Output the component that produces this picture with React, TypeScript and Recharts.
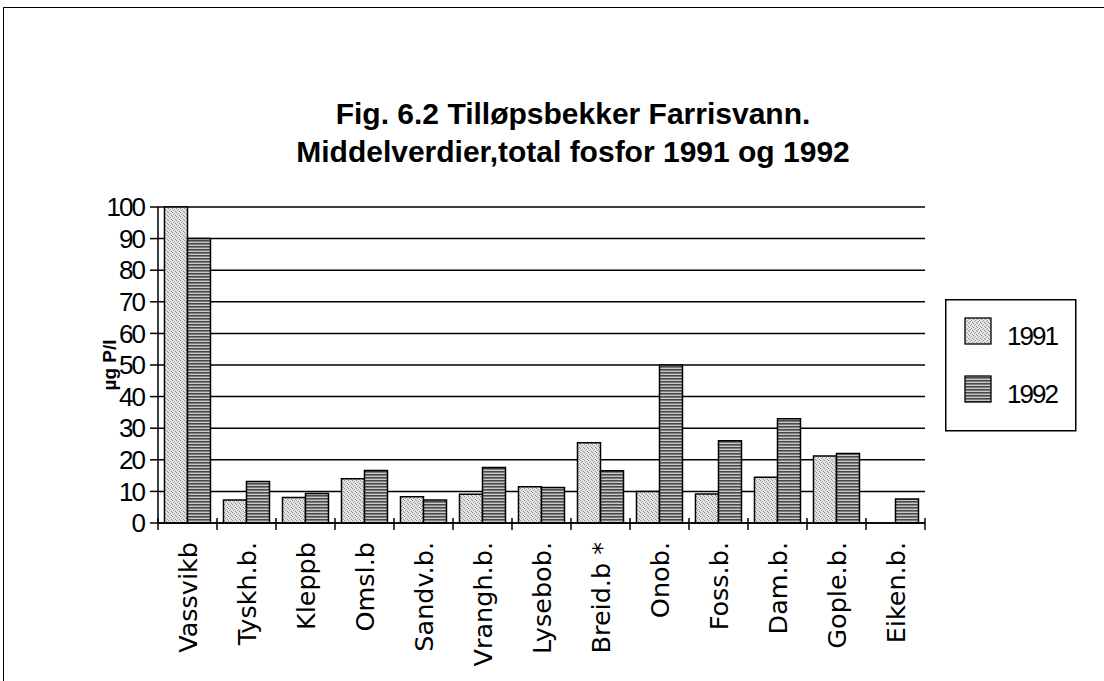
import React from "react";
import {
  Bar,
  BarChart,
  CartesianGrid,
  Legend,
  XAxis,
  YAxis,
} from "recharts";

const categories = [
  "Vassvikb",
  "Tyskh.b.",
  "Kleppb",
  "Omsl.b",
  "Sandv.b.",
  "Vrangh.b.",
  "Lysebob.",
  "Breid.b *",
  "Onob.",
  "Foss.b.",
  "Dam.b.",
  "Gople.b.",
  "Eiken.b.",
];
const values1991 = [100, 7.3, 8.1, 14, 8.3, 9.1, 11.5, 25.4, 10, 9.2, 14.5, 21.2, null];
const values1992 = [90, 13.1, 9.3, 16.6, 7.3, 17.6, 11.2, 16.5, 50, 26, 33, 22, 7.6];
const yTicks = [0, 10, 20, 30, 40, 50, 60, 70, 80, 90, 100];

const data = categories.map((name, i) => ({
  name,
  y1991: values1991[i],
  y1992: values1992[i],
}));

const titleFont = "'Liberation Sans', Arial, sans-serif";
const tickFont = "'Liberation Sans', Arial, sans-serif";
const labelFont = "'DejaVu Sans', Verdana, sans-serif";

function Patterns({ prefix }: { prefix: string }) {
  return (
    <defs>
      <pattern id={`${prefix}-dots`} width="4" height="4" patternUnits="userSpaceOnUse">
        <rect width="4" height="4" fill="#e4e4e4" />
        <rect x="0" y="0" width="1" height="1" fill="#8c8c8c" />
        <rect x="2" y="1" width="1" height="1" fill="#a0a0a0" />
        <rect x="1" y="2" width="1" height="1" fill="#9a9a9a" />
        <rect x="3" y="3" width="1" height="1" fill="#8c8c8c" />
      </pattern>
      <pattern id={`${prefix}-stripes`} width="4" height="3" patternUnits="userSpaceOnUse">
        <rect width="4" height="3" fill="#c8c8c8" />
        <rect x="0" y="0" width="4" height="1.6" fill="#4a4a4a" />
      </pattern>
    </defs>
  );
}

// category label plus the boundary ticks that cross the x axis
function CategoryTick(props: any) {
  const { x, y, payload, index, visibleTicksCount } = props;
  const half = payload.offset || 29.5;
  const last = index === visibleTicksCount - 1;
  return (
    <g>
      <line x1={x - half} x2={x - half} y1={y - 5} y2={y + 7} stroke="#000" strokeWidth={1.5} />
      {last && (
        <line x1={x + half} x2={x + half} y1={y - 5} y2={y + 7} stroke="#000" strokeWidth={1.5} />
      )}
      <g transform={`translate(${x},${y + 19}) rotate(-90)`}>
        <text textAnchor="end" dy="0.36em" fontSize={25.5} fontFamily={labelFont} fill="#000">
          {payload.value}
        </text>
      </g>
    </g>
  );
}

function LegendBox({ payload }: any) {
  const items = payload || [];
  return (
    <svg width={132} height={133} style={{ display: "block" }}>
      <Patterns prefix="lg" />
      <rect x={0.75} y={0.75} width={130} height={131} fill="#fff" stroke="#000" strokeWidth={1.5} />
      {items.map((entry: any, i: number) => (
        <g key={entry.value}>
          <rect
            x={20}
            y={19 + i * 58}
            width={26}
            height={26}
            fill={i === 0 ? "url(#lg-dots)" : "url(#lg-stripes)"}
            stroke="#000"
            strokeWidth={1.3}
          />
          <text x={62} y={46 + i * 58} fontSize={26} letterSpacing={-2} fontFamily={tickFont} fill="#000">
            {entry.value}
          </text>
        </g>
      ))}
    </svg>
  );
}

export default function App() {
  return (
    <div style={{ position: "absolute", left: 0, top: 0, width: 1104, height: 681, background: "#fff", overflow: "hidden" }}>
      <div
        style={{
          position: "absolute",
          left: 3,
          top: 7,
          width: 1101,
          height: 674,
          borderTop: "1.5px solid #000",
          borderLeft: "1.5px solid #000",
          boxSizing: "border-box",
        }}
      />
      <div
        style={{
          position: "absolute",
          left: 273,
          top: 95,
          width: 600,
          textAlign: "center",
          fontFamily: titleFont,
          fontWeight: "bold",
          fontSize: 30,
          lineHeight: "38px",
          color: "#000",
        }}
      >
        Fig. 6.2 Tilløpsbekker Farrisvann.
        <br />
        Middelverdier,total fosfor 1991 og 1992
      </div>
      <div style={{ position: "absolute", left: 0, top: 0 }}>
        <BarChart
          width={1104}
          height={681}
          data={data}
          margin={{ top: 207, right: 179, bottom: 8, left: 88 }}
          barCategoryGap="11%"
          barGap={0}
        >
          <Patterns prefix="ch" />
          <CartesianGrid horizontal vertical={false} stroke="#000" strokeWidth={1.5} />
          <XAxis
            dataKey="name"
            interval={0}
            height={150}
            tickSize={0}
            tickMargin={0}
            tickLine={false}
            axisLine={{ stroke: "#000", strokeWidth: 1.5 }}
            tick={<CategoryTick />}
          />
          <YAxis
            width={70}
            domain={[0, 100]}
            ticks={yTicks}
            interval={0}
            tickSize={8}
            tickMargin={6}
            axisLine={{ stroke: "#000", strokeWidth: 1.5 }}
            tickLine={{ stroke: "#000", strokeWidth: 1.5 }}
            tick={{ fontSize: 26, letterSpacing: -2, fontFamily: tickFont, fill: "#000" }}
            label={{
              value: "µg P/l",
              angle: -90,
              position: "insideLeft",
              offset: 21,
              style: { textAnchor: "middle", fontWeight: "bold", fontSize: 19, fontFamily: titleFont, fill: "#000" },
            }}
          />
          <Legend
            layout="horizontal"
            verticalAlign="middle"
            align="center"
            width={132}
            height={133}
            wrapperStyle={{ left: 945, top: 299, width: 132, height: 133 }}
            content={<LegendBox />}
          />
          <Bar
            dataKey="y1991"
            name="1991"
            fill="url(#ch-dots)"
            stroke="#000"
            strokeWidth={1.5}
            isAnimationActive={false}
          />
          <Bar
            dataKey="y1992"
            name="1992"
            fill="url(#ch-stripes)"
            stroke="#000"
            strokeWidth={1.5}
            isAnimationActive={false}
          />
        </BarChart>
      </div>
    </div>
  );
}
